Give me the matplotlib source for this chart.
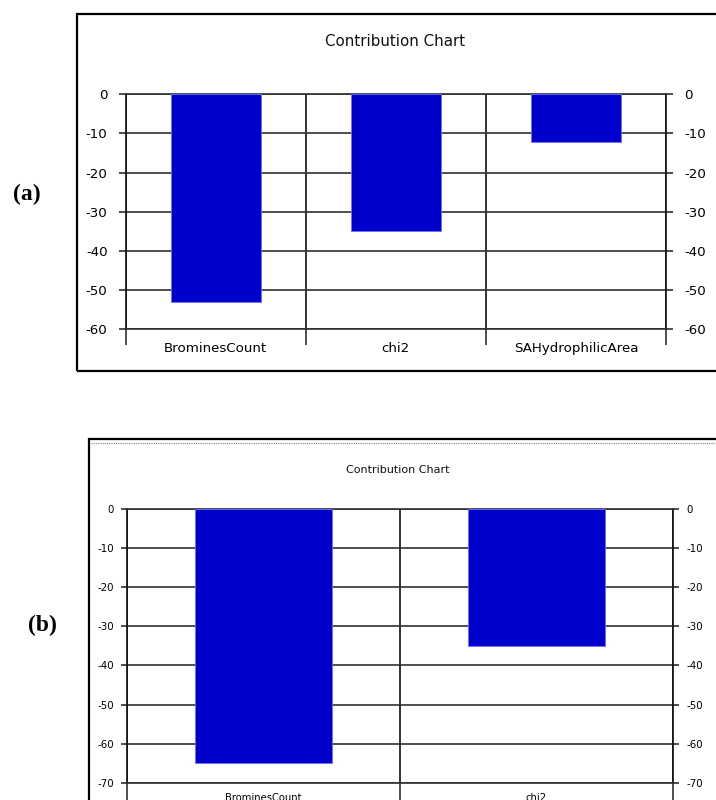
import numpy as np
import matplotlib.pyplot as plt
from matplotlib.patches import Rectangle
from matplotlib.lines import Line2D

# === DATA ===
cats_a = ["BrominesCount", "chi2", "SAHydrophilicArea"]
vals_a = [-53, -35, -12.3]
yticks_a = [0, -10, -20, -30, -40, -50, -60]

cats_b = ["BrominesCount", "chi2"]
vals_b = [-65, -35]
yticks_b = [0, -10, -20, -30, -40, -50, -60, -70]

title = "Contribution Chart"
BAR_COLOR = "#0000CC"

W, H = 716, 800
fig = plt.figure(figsize=(W / 100, H / 100), dpi=100)
fig.patch.set_facecolor("white")


def px_axes(l, t, r, b):
    return fig.add_axes([l / W, 1 - b / H, (r - l) / W, (b - t) / H])


def draw_panel(ax, cats, vals, yticks, fs_tick, fs_cat, ylen, ypad, xlen, xpad):
    x = np.arange(len(cats))
    ax.bar(x, vals, width=0.5, color=BAR_COLOR, edgecolor="#7070ff",
           linewidth=0.6, zorder=3)
    ax.set_xlim(-0.5, len(cats) - 0.5)
    ax.set_ylim(min(yticks), 0)
    ax.set_yticks(yticks)
    ax.set_yticklabels([str(v) for v in yticks])
    ax.set_xticks(x)
    ax.set_xticklabels(cats)
    ax.set_xticks(np.arange(len(cats) + 1) - 0.5, minor=True)
    ax.set_axisbelow(True)
    ax.yaxis.grid(True, color="#303030", linewidth=1.2)
    ax.xaxis.grid(True, which="minor", color="#101010", linewidth=1.2)
    ax.tick_params(axis="y", which="major", left=True, right=True,
                   labelleft=True, labelright=True, direction="out",
                   length=ylen, pad=ypad, width=1.2, color="#303030",
                   labelsize=fs_tick)
    ax.tick_params(axis="x", which="major", length=0, pad=xpad,
                   labelsize=fs_cat)
    ax.tick_params(axis="x", which="minor", length=xlen, width=1.2,
                   direction="out", color="#303030")
    for side in ["left", "right"]:
        ax.spines[side].set_color("#101010")
        ax.spines[side].set_linewidth(1.2)
    for side in ["top", "bottom"]:
        ax.spines[side].set_color("#303030")
        ax.spines[side].set_linewidth(1.2)
    for lab in ax.get_xticklabels() + ax.get_yticklabels():
        lab.set_family("DejaVu Sans")


# --- panel (a) frame ---
fig.patches.append(Rectangle((77 / W, 1 - 371 / H), (W + 10 - 77) / W,
                             (371 - 14) / H, transform=fig.transFigure,
                             fill=False, edgecolor="black", linewidth=1.6,
                             clip_on=False))
ax_a = px_axes(125.6, 94.3, 666, 329.3)
draw_panel(ax_a, cats_a, vals_a, yticks_a, 9.6, 9.6, 5, 8, 11.5, 9)
fig.text(395 / W, 1 - 42 / H, title, ha="center", va="center",
         fontsize=10.8, color="#111111")
fig.text(27 / W, 1 - 194 / H, "(a)", ha="center", va="center",
         fontsize=17, fontweight="bold", family="Liberation Serif")

# --- panel (b) frame ---
fig.patches.append(Rectangle((89 / W, 1 - (H + 10) / H), (W + 10 - 89) / W,
                             (H + 10 - 439) / H, transform=fig.transFigure,
                             fill=False, edgecolor="black", linewidth=1.6,
                             clip_on=False))
fig.lines.append(Line2D([91 / W, 1], [1 - 442.5 / H, 1 - 442.5 / H],
                        transform=fig.transFigure, color="#808080",
                        linewidth=0.8, linestyle=(0, (1, 1))))
ax_b = px_axes(127, 508.7, 673, 783)
draw_panel(ax_b, cats_b, vals_b, yticks_b, 7.4, 7.2, 4, 5.5, 12, 7)
fig.text(398 / W, 1 - 470 / H, title, ha="center", va="center",
         fontsize=8, color="#111111")
fig.text(42 / W, 1 - 625 / H, "(b)", ha="center", va="center",
         fontsize=17, fontweight="bold", family="Liberation Serif")

plt.savefig("out.png", dpi=100)
